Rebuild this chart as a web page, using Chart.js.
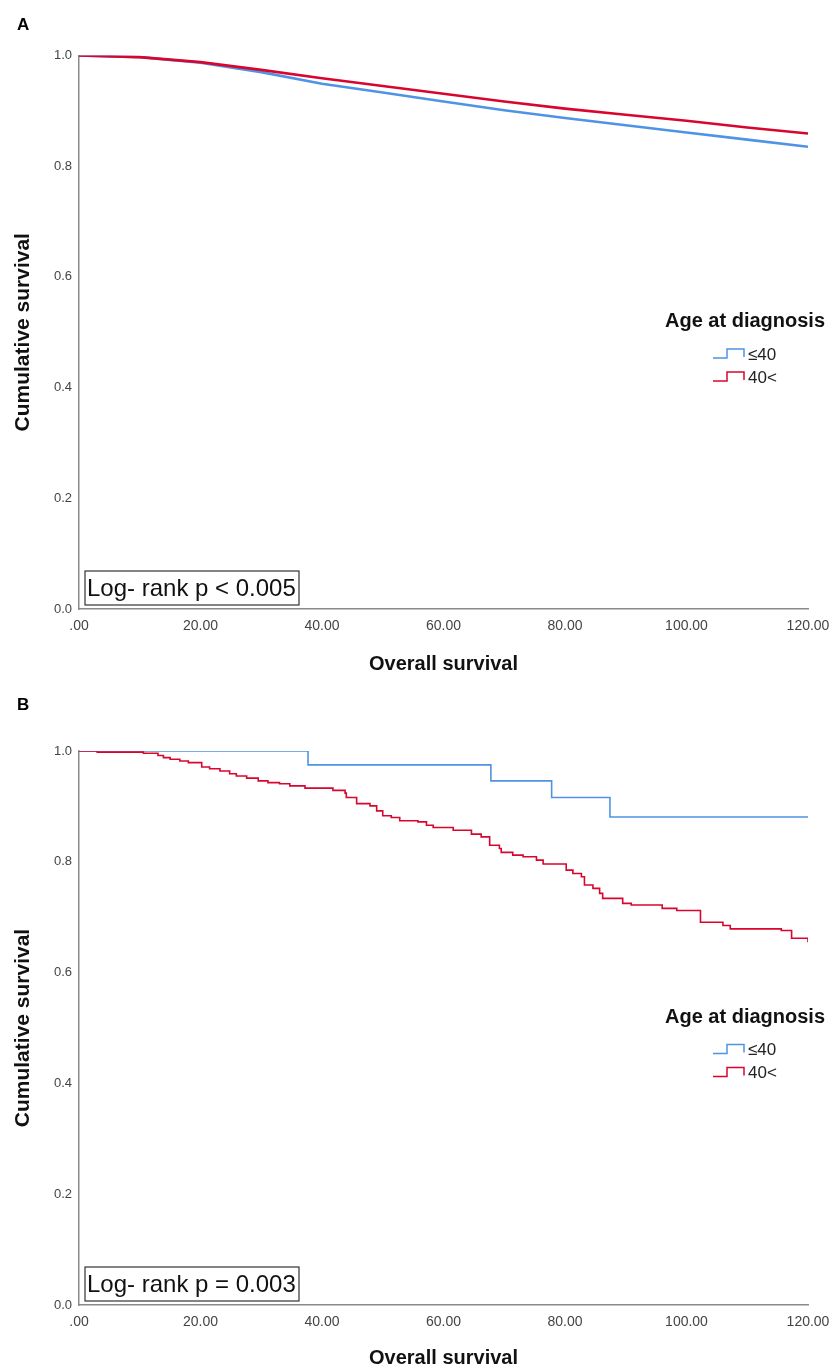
<!DOCTYPE html>
<html>
<head>
<meta charset="utf-8">
<title>Overall survival by age at diagnosis</title>
<script src="https://cdn.jsdelivr.net/npm/chart.js"></script>
<style>
  body { margin: 0; background: #fff; overflow: hidden; }
  canvas { position: absolute; left: 0; }
  #chartA { top: 0; }
  #chartB { top: 684px; }
</style>
</head>
<body>
<canvas id="chartA" width="834" height="684"></canvas>
<canvas id="chartB" width="834" height="684"></canvas>
<script>
// ---- data ----
// panel A (large cohort, curves look almost smooth)
var timeA      = [0, 10, 20, 30, 40, 50, 60, 70, 80, 90, 100, 110, 120];
var survA_le40 = [1.0, 0.997, 0.987, 0.970, 0.949, 0.933, 0.917, 0.901, 0.887, 0.874, 0.861, 0.848, 0.835];
var survA_gt40 = [1.0, 0.997, 0.988, 0.974, 0.959, 0.945, 0.931, 0.917, 0.904, 0.893, 0.882, 0.870, 0.859];

// panel B (step curves: value holds from this time until the next one)
var timeB_le40 = [0, 37.7, 67.8, 77.8, 87.4, 120];
var survB_le40 = [1.0, 0.975, 0.946, 0.916, 0.881, 0.881];
var timeB_gt40 = [0, 3, 10.6, 13, 13.9, 15, 16.6, 18, 20.2, 21.5, 23.2, 24.8, 25.9, 27.6, 29.5, 31.1, 33, 34.7,
                  37.2, 41.8, 43.8, 44, 45.7, 47.9, 49, 50, 51.4, 52.8, 55.8, 57.2, 58.3, 61.6, 64.6, 66.2,
                  67.6, 69.2, 69.5, 71.4, 73.1, 75.3, 76.4, 80.2, 81.3, 82.7, 83.2, 84.6, 85.7, 86.2, 89.5,
                  90.9, 96, 98.4, 102.3, 106, 107.2, 115.6, 117.3, 120];
var survB_gt40 = [1.0, 0.998, 0.996, 0.992, 0.988, 0.985, 0.982, 0.979, 0.971, 0.968, 0.964, 0.959, 0.955, 0.951, 0.946, 0.943, 0.941, 0.937,
                  0.933, 0.929, 0.924, 0.916, 0.905, 0.901, 0.892, 0.883, 0.880, 0.874, 0.872, 0.866, 0.862, 0.857, 0.850, 0.845,
                  0.830, 0.824, 0.817, 0.812, 0.809, 0.803, 0.796, 0.785, 0.779, 0.773, 0.758, 0.752, 0.743, 0.734, 0.725,
                  0.722, 0.716, 0.712, 0.691, 0.685, 0.679, 0.676, 0.662, 0.655];

var groupLabels = ["\u226440", "40<"];
var xTickLabels = [".00", "20.00", "40.00", "60.00", "80.00", "100.00", "120.00"];
var yTickLabels = ["0.0", "0.2", "0.4", "0.6", "0.8", "1.0"];

var BLUE = "#4f94e4";
var RED  = "#d8062e";
var FONT = '"Liberation Sans", Arial, sans-serif';

function toPoints(xs, ys) {
	var pts = [];
	for (var i = 0; i < xs.length; i++) {
		pts.push({ x: xs[i], y: ys[i] });
	}
	return pts;
}

// legend, p-value box and panel letter
var extrasPlugin = {
	id: "kmExtras",
	afterDraw: function(chart, args, opts) {
		var ctx = chart.ctx;
		var area = chart.chartArea;
		var sets = chart.data.datasets;
		ctx.save();

		// panel letter
		ctx.fillStyle = "#000";
		ctx.textAlign = "left";
		ctx.textBaseline = "middle";
		ctx.font = "bold 17px " + FONT;
		ctx.fillText(opts.letter, 17, opts.letterY);

		// legend
		ctx.fillStyle = "#111";
		ctx.font = "bold 20px " + FONT;
		ctx.fillText("Age at diagnosis", 665, area.top + 266);

		// blue group is listed first
		var items = [sets[1], sets[0]];
		for (var i = 0; i < items.length; i++) {
			var cy = area.top + 299.5 + i * 23;
			ctx.strokeStyle = items[i].borderColor;
			ctx.lineWidth = 1.5;
			ctx.beginPath();
			ctx.moveTo(713, cy + 3);
			ctx.lineTo(727, cy + 3);
			ctx.lineTo(727, cy - 6);
			ctx.lineTo(744, cy - 6);
			ctx.lineTo(744, cy + 2);
			ctx.stroke();
			ctx.fillStyle = "#222";
			ctx.font = "17px " + FONT;
			ctx.fillText(items[i].label, 748, cy);
		}

		// log-rank box
		var bx = 85, bw = 214, bh = 34;
		var by = area.bottom - 38;
		ctx.fillStyle = "#fff";
		ctx.fillRect(bx, by, bw, bh);
		ctx.strokeStyle = "#333";
		ctx.lineWidth = 1.2;
		ctx.strokeRect(bx, by, bw, bh);
		ctx.fillStyle = "#111";
		ctx.font = "24px " + FONT;
		ctx.fillText(opts.pText, bx + 2, by + bh / 2 + 1);

		ctx.restore();
	}
};

function makeChart(id, cfg) {
	var ctx = document.getElementById(id);

	var data = {
		datasets: [
			{
				label: groupLabels[1],
				data: cfg.red,
				borderColor: RED,
				borderWidth: cfg.lineWidth,
				stepped: cfg.stepped,
				fill: false,
				pointRadius: 0,
				tension: 0
			},
			{
				label: groupLabels[0],
				data: cfg.blue,
				borderColor: BLUE,
				borderWidth: cfg.lineWidth,
				stepped: cfg.stepped,
				fill: false,
				pointRadius: 0,
				tension: 0
			}
		]
	};

	var options = {
		responsive: false,
		animation: false,
		layout: {
			padding: { top: cfg.padTop, right: 26, bottom: 0, left: 0 }
		},
		plugins: {
			legend: { display: false },
			tooltip: { enabled: false },
			kmExtras: { letter: cfg.letter, letterY: cfg.letterY, pText: cfg.pText }
		},
		scales: {
			x: {
				type: "linear",
				min: 0,
				max: 120,
				grid: { display: false, drawTicks: false },
				border: { display: true, color: "#8a8a8a", width: 1.5 },
				ticks: {
					stepSize: 20,
					autoSkip: false,
					maxRotation: 0,
					padding: 9,
					color: "#444",
					font: { family: FONT, size: 14 },
					callback: function(v) { return xTickLabels[Math.round(v / 20)]; }
				},
				title: {
					display: true,
					text: "Overall survival",
					color: "#111",
					font: { family: FONT, size: 20, weight: "bold", lineHeight: 1 },
					padding: { top: 0, bottom: cfg.xTitlePad }
				},
				afterFit: function(scale) {
					scale.height = cfg.xHeight;
					// let the layout padding decide where the axis ends
					scale.paddingLeft = 0;
					scale.paddingRight = 0;
				}
			},
			y: {
				min: 0,
				max: 1,
				grid: { display: false, drawTicks: false },
				border: { display: true, color: "#8a8a8a", width: 1.5 },
				ticks: {
					stepSize: 0.2,
					padding: 7,
					color: "#444",
					font: { family: FONT, size: 13 },
					callback: function(v) { return yTickLabels[Math.round(v * 5)]; }
				},
				title: {
					display: true,
					text: "Cumulative survival",
					color: "#111",
					font: { family: FONT, size: 21, weight: "bold", lineHeight: 1 },
					padding: { top: 13, bottom: 0 }
				},
				afterFit: function(scale) {
					scale.width = 79;
					scale.paddingTop = 0;
					scale.paddingBottom = 0;
				}
			}
		}
	};

	return new Chart(ctx, {
		type: "line",
		data: data,
		options: options,
		plugins: [extrasPlugin]
	});
}

makeChart("chartA", {
	red: toPoints(timeA, survA_gt40),
	blue: toPoints(timeA, survA_le40),
	stepped: false,
	lineWidth: 2.6,
	padTop: 55.5,
	xHeight: 75,
	xTitlePad: 10,
	letter: "A",
	letterY: 25,
	pText: "Log- rank p < 0.005"
});

makeChart("chartB", {
	red: toPoints(timeB_gt40, survB_gt40),
	blue: toPoints(timeB_le40, survB_le40),
	stepped: true,
	lineWidth: 1.6,
	padTop: 67,
	xHeight: 63,
	xTitlePad: 0,
	letter: "B",
	letterY: 21,
	pText: "Log- rank p = 0.003"
});
</script>
</body>
</html>
